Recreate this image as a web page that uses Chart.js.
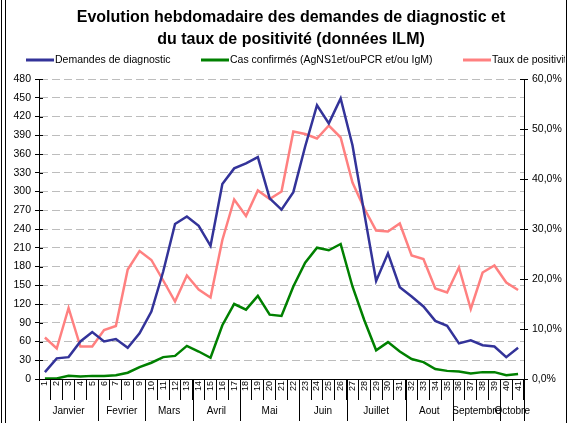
<!DOCTYPE html>
<html>
<head>
<meta charset="utf-8">
<script src="https://cdn.jsdelivr.net/npm/chart.js@4/dist/chart.umd.min.js"></script>
<style>
  body { margin: 0; background: #fff; }
  canvas { display: block; }
</style>
</head>
<body>
<canvas id="chart" width="571" height="423"></canvas>
<script>
const weeks = ['1','2','3','4','5','6','7','8','9','10','11','12','13','14','15','16','17','18','19','20',
  '21','22','23','24','25','26','27','28','29','30','31','32','33','34','35','36','37','38','39','40','41'];
const months = ['Janvier','Fevrier','Mars','Avril','Mai','Juin','Juillet','Aout','Septembre','Octobre'];
const weeksPerMonth = [5, 4, 4, 4, 5, 4, 5, 4, 4, 2];

const demandes = [11,33,35,60,75,60,64,50,73,108,172,248,260,245,213,312,337,345,355,289,
  271,299,372,438,409,449,374,265,157,201,147,132,116,93,85,57,62,54,52,35,50];
const cas = [1,1,5,4,5,5,6,10,19,26,35,37,53,44,34,86,120,111,133,103,
  101,148,186,210,206,216,148,94,46,59,44,32,27,16,13,12,9,11,11,6,8];
const taux = [8.3,6.1,14.2,6.5,6.5,9.8,10.6,21.9,25.6,23.8,19.7,15.5,20.7,17.9,16.3,27.8,35.9,32.6,37.7,36.0,
  37.5,49.5,49.0,48.1,50.7,48.3,39.3,34.1,29.7,29.5,31.1,24.7,24.0,18.1,17.3,22.3,14.0,21.3,22.7,19.3,17.8];

const titleLines = ['Evolution hebdomadaire des demandes de diagnostic et', 'du taux de positivité (données ILM)'];

const blue = '#333399';
const green = '#008000';
const pink = '#ff8080';
const font = 'Liberation Sans, Arial, sans-serif';

Chart.defaults.font.family = font;
Chart.defaults.color = '#000';

// title, month groups, legend, frame and inner tick marks
const extras = {
  id: 'extras',
  afterDraw(chart) {
    const ctx = chart.ctx;
    const x = chart.scales.x;
    const step = x.getPixelForValue(1) - x.getPixelForValue(0);
    ctx.save();
    ctx.strokeStyle = '#000';
    ctx.lineWidth = 1;

    // frame
    [1.5, 5.5, 566.5].forEach(px => {
      ctx.beginPath(); ctx.moveTo(px, 0); ctx.lineTo(px, chart.height); ctx.stroke();
    });

    // title
    ctx.fillStyle = '#000';
    ctx.font = 'bold 16px ' + font;
    ctx.textAlign = 'center';
    ctx.textBaseline = 'middle';
    titleLines.forEach((t, i) => ctx.fillText(t, 291, 18 + i * 22));

    // inner halves of the y tick marks
    ['y', 'y1'].forEach(id => {
      const s = chart.scales[id];
      const ax = id === 'y' ? s.right : s.left;
      const dir = id === 'y' ? 1 : -1;
      s.ticks.forEach(t => {
        const py = Math.round(s.getPixelForValue(t.value)) + 0.5;
        ctx.beginPath(); ctx.moveTo(ax, py); ctx.lineTo(ax + dir * 4, py); ctx.stroke();
      });
    });

    // month separators and labels
    ctx.font = '10px ' + font;
    let start = 0;
    const sep = i => Math.round(x.getPixelForValue(i) - step / 2) + 0.5;
    weeksPerMonth.forEach((n, m) => {
      const x0 = sep(start);
      ctx.beginPath(); ctx.moveTo(x0, x.top); ctx.lineTo(x0, 421); ctx.stroke();
      const cx = (x.getPixelForValue(start) + x.getPixelForValue(start + n - 1)) / 2;
      ctx.fillText(months[m], cx, 411);
      start += n;
    });
    const xe = sep(start);
    ctx.beginPath(); ctx.moveTo(xe, x.top); ctx.lineTo(xe, 421); ctx.stroke();

    // legend
    ctx.beginPath(); ctx.rect(0, 0, 565, chart.height); ctx.clip();
    const legendX = [26, 201, 463];
    ctx.font = '10.5px ' + font;
    ctx.textAlign = 'left';
    chart.data.datasets.forEach((ds, i) => {
      const lx = legendX[i];
      ctx.strokeStyle = ds.borderColor;
      ctx.lineWidth = 3;
      ctx.beginPath(); ctx.moveTo(lx, 60); ctx.lineTo(lx + 28, 60); ctx.stroke();
      ctx.fillText(ds.label, lx + 29, 60);
    });
    ctx.restore();
  }
};

new Chart(document.getElementById('chart'), {
  type: 'line',
  data: {
    labels: weeks,
    datasets: [
      { label: 'Demandes de diagnostic', data: demandes, borderColor: blue, yAxisID: 'y' },
      { label: 'Cas confirmés (AgNS1et/ouPCR et/ou IgM)', data: cas, borderColor: green, yAxisID: 'y' },
      { label: 'Taux de positivité', data: taux, borderColor: pink, yAxisID: 'y1' }
    ]
  },
  options: {
    responsive: false,
    animation: false,
    layout: { padding: { top: 79 } },
    elements: {
      line: { borderWidth: 2.5, tension: 0, fill: false },
      point: { radius: 0 }
    },
    plugins: {
      legend: { display: false },
      tooltip: { enabled: false },
      title: { display: false }
    },
    scales: {
      x: {
        offset: true,
        grid: { offset: true, drawOnChartArea: false, tickLength: 21, color: '#000' },
        border: { color: '#000' },
        ticks: { minRotation: 90, maxRotation: 90, autoSkip: false, padding: -19, font: { size: 9 } },
        afterFit: s => { s.height = 44; }
      },
      y: {
        min: 0, max: 480,
        ticks: { stepSize: 30, padding: 4, font: { size: 10.5 } },
        grid: { color: '#bdbdbd', tickColor: '#000', tickLength: 4, tickBorderDash: [] },
        border: { color: '#000', dash: [8, 4] },
        afterFit: s => { s.width = 39; }
      },
      y1: {
        position: 'right',
        min: 0, max: 60,
        ticks: {
          stepSize: 10, padding: 4, font: { size: 10.5 },
          callback: v => v.toFixed(1).replace('.', ',') + '%'
        },
        grid: { drawOnChartArea: false, tickColor: '#000', tickLength: 4 },
        border: { color: '#000' },
        afterFit: s => { s.width = 47; }
      }
    }
  },
  plugins: [extras]
});
</script>
</body>
</html>
